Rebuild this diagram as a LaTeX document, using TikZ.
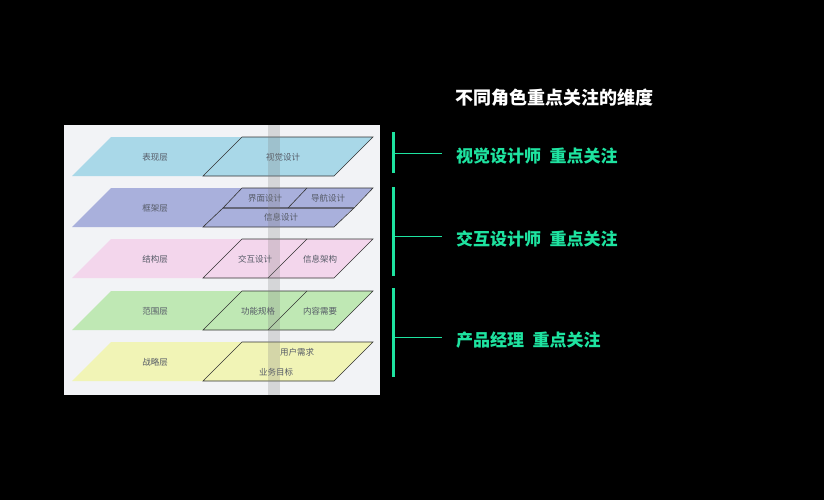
\documentclass[tikz,border=0pt]{standalone}
\usepackage{fontspec}
\newfontfamily\cjk{Noto Sans CJK SC}
\usetikzlibrary{positioning}
\definecolor{accent}{HTML}{1EE3A0}
\definecolor{panelbg}{HTML}{F2F3F6}
\definecolor{lblue}{HTML}{A9D8E8}
\definecolor{lviolet}{HTML}{A9B0DC}
\definecolor{lpink}{HTML}{F3D6EC}
\definecolor{lgreen}{HTML}{BFE8B4}
\definecolor{lyellow}{HTML}{F1F4B6}
\definecolor{labelgray}{HTML}{555A66}

\begin{document}
\begin{tikzpicture}[x=1pt, y=-1pt,
    cell/.style={draw=black!80, line width=0.6pt},
    lbl/.style={font=\cjk\fontsize{8.5}{9}\selectfont, text=labelgray, inner sep=1pt},
    bar/.style={accent, line width=3pt},
    tick/.style={accent, line width=1pt},
    role/.style={font=\cjk\bfseries\fontsize{17}{18}\selectfont, text=accent, anchor=west, inner sep=0pt}]
    \fill[black] (0,0) rectangle (824,500);
    \useasboundingbox (0,0) rectangle (824,500);
    \fill[panelbg] (64,125) rectangle (380,395);
    % layers: top y, colour
    \foreach \t/\c in {137/lblue, 188/lviolet, 239/lpink, 291/lgreen, 342/lyellow}
        \fill[\c] (72,\t+39) -- (111,\t) -- (373,\t) -- (334,\t+39) -- cycle;
    % layer 1
    \draw[cell] (203,176) -- (242,137) -- (373,137) -- (334,176) -- cycle;
    \node[lbl] (view) at (155,157) {表现层};
    \node[lbl] (visual) at (283,157) {视觉设计};
    % layer 2
    \draw[cell] (223,208) -- (242,188) -- (373,188) -- (354,208) -- cycle;
    \draw[cell] (203,227) -- (223,208) -- (354,208) -- (334,227) -- cycle;
    \draw[cell] (288,208) -- (307,188);
    \node[lbl] (frame) at (155,208) {框架层};
    \node[lbl] (ui) at (265,198) {界面设计};
    \node[lbl] (nav) at (328,198) {导航设计};
    \node[lbl] (info) at (281,217) {信息设计};
    % layer 3
    \draw[cell] (203,278) -- (242,239) -- (373,239) -- (334,278) -- cycle;
    \draw[cell] (268,278) -- (307,239);
    \node[lbl] (struct) at (155,259) {结构层};
    \node[lbl] (inter) at (255,259) {交互设计};
    \node[lbl] (arch) at (320,259) {信息架构};
    % layer 4
    \draw[cell] (203,330) -- (242,291) -- (373,291) -- (334,330) -- cycle;
    \draw[cell] (268,330) -- (307,291);
    \node[lbl] (scope) at (155,311) {范围层};
    \node[lbl] (func) at (258,311) {功能规格};
    \node[lbl] (content) at (320,311) {内容需要};
    % layer 5
    \draw[cell] (203,381) -- (242,342) -- (373,342) -- (334,381) -- cycle;
    \node[lbl] (strat) at (155,362) {战略层};
    \node[lbl] (user) at (297,352) {用户需求};
    \node[lbl] (biz) at (276,372) {业务目标};
    % shaded strip
    \fill[gray, opacity=0.25] (268,125) rectangle (280,395);
    % right side
    \node[font=\cjk\bfseries\fontsize{18}{20}\selectfont, text=white, anchor=west, inner sep=0pt] (title) at (455,98) {不同角色重点关注的维度};
    \draw[bar] (393,132) -- (393,173);
    \draw[bar] (393,187) -- (393,276);
    \draw[bar] (393,288) -- (393,377);
    \node[role] (r1) at (456,156) {视觉设计师\hspace{0.5em}重点关注};
    \node[role] (r2) at (456,239) {交互设计师\hspace{0.5em}重点关注};
    \node[role] (r3) at (456,340) {产品经理\hspace{0.5em}重点关注};
    \coordinate (b1) at (393,153);
    \coordinate (b2) at (393,236);
    \coordinate (b3) at (393,337);
    \draw[tick] (b1) -- ++(49,0);
    \draw[tick] (b2) -- ++(49,0);
    \draw[tick] (b3) -- ++(49,0);
\end{tikzpicture}
\end{document}
